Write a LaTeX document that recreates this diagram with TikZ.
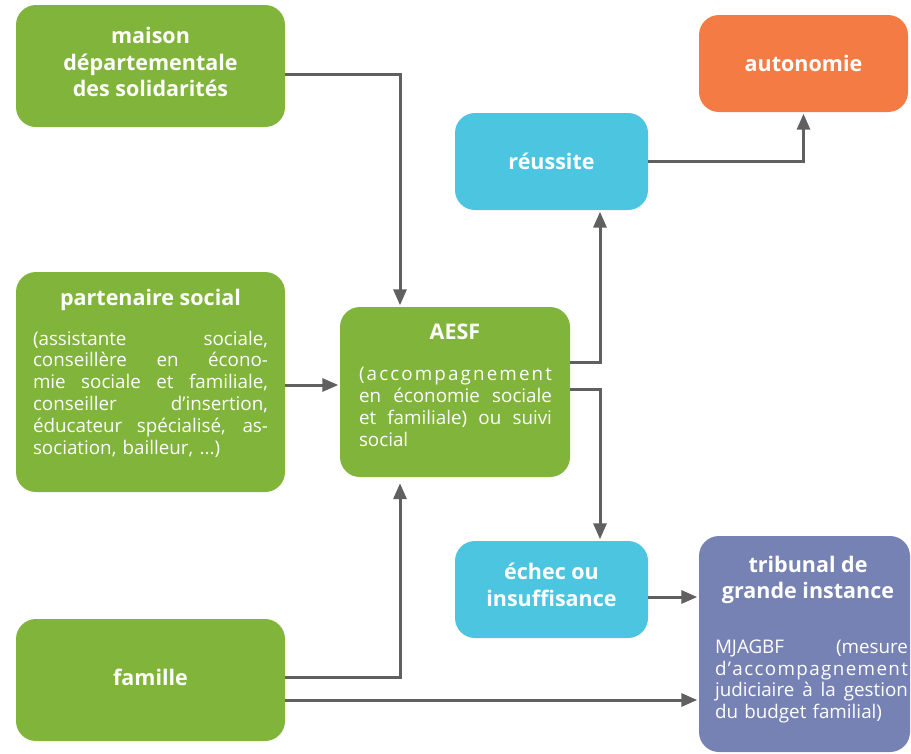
\documentclass[tikz,border=0pt]{standalone}
\usepackage{fontspec}
\setmainfont{Open Sans}
\usetikzlibrary{arrows.meta,calc}

\definecolor{boxgreen}{HTML}{80B43A}
\definecolor{boxblue}{HTML}{4CC5E0}
\definecolor{boxorange}{HTML}{F47C44}
\definecolor{boxpurple}{HTML}{7782B4}
\definecolor{linkgray}{HTML}{606060}

% one justified line of a text block: word spaces stretch to the full width
\newcommand{\jl}[1]{\leavevmode\hbox to \linewidth{\spaceskip=0.25em plus 1fil\xspaceskip=\spaceskip #1}}
% one line spread letter by letter
\newcommand{\spreadline}[1]{\leavevmode\hbox to \linewidth{#1}}

\begin{document}
\begin{tikzpicture}[x=1pt,y=-1pt,
  panel/.style={rounded corners=20pt, inner sep=0pt, draw=none},
  titletext/.style={text=white, font=\fontsize{21.5}{26.5}\selectfont\bfseries, align=center, inner sep=0pt},
  bodytext/.style={text=white, font=\fontsize{18.8}{21.8}\selectfont, align=left, inner sep=0pt},
  conn/.style={draw=linkgray, line width=3pt, -{Triangle[length=16pt,width=13pt]}, shorten >=1.5pt}
]
\useasboundingbox (0,0) rectangle (911,753);

% boxes
\node[panel, fill=boxgreen, minimum width=269pt, minimum height=122pt] (maison) at (150.5,66) {};
\node[panel, fill=boxgreen, minimum width=269pt, minimum height=220pt] (partenaire) at (150.5,382) {};
\node[panel, fill=boxgreen, minimum width=269pt, minimum height=122pt] (famille) at (150.5,680) {};
\node[panel, fill=boxgreen, minimum width=230pt, minimum height=170pt] (aesf) at (455,392) {};
\node[panel, fill=boxblue, minimum width=193pt, minimum height=97pt] (reussite) at (551.5,161.5) {};
\node[panel, fill=boxblue, minimum width=193pt, minimum height=97pt] (echec) at (551.5,589.5) {};
\node[panel, fill=boxorange, minimum width=209pt, minimum height=97pt] (autonomie) at (803.5,63.5) {};
\node[panel, fill=boxpurple, minimum width=211pt, minimum height=216pt] (tribunal) at (804.5,644) {};

% texts
\node[titletext] (tmaison) at (150.5,62) {maison\\départementale\\des solidarités};
\node[titletext] (tpart) at (150.5,300) {partenaire social};
\node[bodytext, text width=235pt] (bpart) at (150.5,394) {%
\jl{(assistante sociale,}\\
\jl{conseillère en écono-}\\
\jl{mie sociale et familiale,}\\
\jl{conseiller d’insertion,}\\
\jl{éducateur spécialisé, as-}\\
sociation, bailleur, ...)};
\node[titletext] (tfamille) at (150.5,677) {famille};
\node[titletext] (taesf) at (455,332) {AESF};
\node[bodytext, text width=193pt] (baesf) at (455.5,407) {%
\spreadline{(\hfill a\hfill c\hfill c\hfill o\hfill m\hfill p\hfill a\hfill g\hfill n\hfill e\hfill m\hfill e\hfill n\hfill t}\\
\jl{en économie sociale}\\
\jl{et familiale) ou suivi}\\
social};
\node[titletext] (treussite) at (551.5,161) {réussite};
\node[titletext] (techec) at (551.5,585) {échec ou\\insuffisance};
\node[titletext] (tautonomie) at (803.5,63) {autonomie};
\node[titletext] (ttribunal) at (808,580) {tribunal de\\grande instance};
\node[bodytext, text width=193pt] (btribunal) at (811.5,681.5) {%
\jl{MJAGBF (mesure}\\
\spreadline{d\hfill ’\hfill a\hfill c\hfill c\hfill o\hfill m\hfill p\hfill a\hfill g\hfill n\hfill e\hfill m\hfill e\hfill n\hfill t}\\
\jl{judiciaire à la gestion}\\
du budget familial)};

% connector anchors
\coordinate (m1) at ([yshift=-8pt]maison.east);
\coordinate (p1) at ([yshift=-3pt]partenaire.east);
\coordinate (f1) at ([yshift=3pt]famille.east);
\coordinate (f2) at ([yshift=-20pt]famille.east);
\coordinate (a1) at ([yshift=30pt]aesf.east);
\coordinate (a2) at ([yshift=3pt]aesf.east);
\coordinate (e1) at ([yshift=-7.5pt]echec.east);

% connectors
\draw[conn] (m1) -| ([xshift=-55pt]aesf.north);
\draw[conn] (p1) -- (p1 -| aesf.west);
\draw[conn, shorten >=6pt] (f1) -| ([xshift=-55pt]aesf.south);
\draw[conn] (f2) -- (f2 -| tribunal.west);
\draw[conn] (a1) -| ([xshift=48.5pt]reussite.south);
\draw[conn] (a2) -| ([xshift=48.5pt]echec.north);
\draw[conn] (reussite.east) -| (autonomie.south);
\draw[conn] (e1) -- (e1 -| tribunal.west);
\end{tikzpicture}
\end{document}
